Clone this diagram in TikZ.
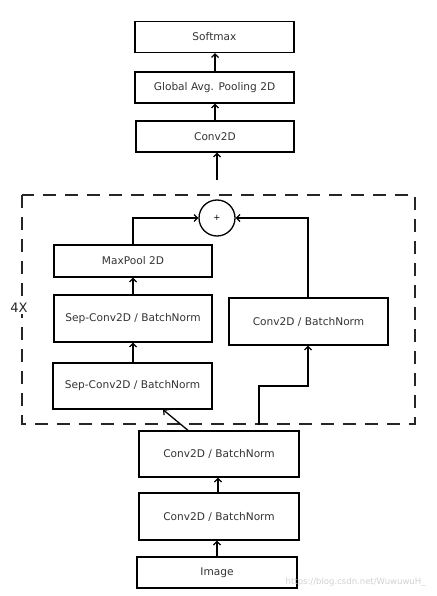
\documentclass[tikz,border=0pt]{standalone}
\usepackage{fontspec}
\setmainfont{DejaVu Sans}
\usetikzlibrary{arrows.meta}
\begin{document}
\begin{tikzpicture}[x=1pt,y=-1pt,
  blk/.style={draw=black,line width=1.3pt,minimum width=#1,inner sep=0pt,font=\fontsize{10.6}{12}\selectfont,text=black!80},
  arr/.style={line width=1.3pt,-{Straight Barb[length=3.5pt,width=7pt,line width=1.2pt]}},
  ln/.style={line width=1.3pt}]
\useasboundingbox (0,0) rectangle (436,596);
% top column
\node[blk=159pt,minimum height=31pt] (soft) at (214.5,37) {Softmax};
\node[blk=159pt,minimum height=31pt] (gap) at (214.5,87.5) {Global Avg. Pooling 2D};
\node[blk=158pt,minimum height=31pt] (conv) at (215,136.5) {Conv2D};
% dashed frame
\draw[line width=1.3pt,dash pattern=on 13pt off 9pt,black!85] (22,195) rectangle (415,424);
\node[font=\fontsize{13}{15}\selectfont,text=black!85,fill=white,inner sep=1pt] (rep) at (19,308) {4X};
% inner blocks
\node[blk=158pt,minimum height=32pt] (mp) at (133,261) {MaxPool 2D};
\node[blk=158pt,minimum height=47pt] (sep1) at (133,318.5) {Sep-Conv2D / BatchNorm};
\node[blk=159pt,minimum height=46pt] (sep2) at (132.5,386) {Sep-Conv2D / BatchNorm};
\node[blk=159pt,minimum height=47pt] (cbr) at (308.5,321.5) {Conv2D / BatchNorm};
\node[draw=black,line width=1.3pt,circle,minimum size=36pt,inner sep=0pt,font=\fontsize{8.5}{10}\selectfont] (add) at (217,218) {+};
% bottom column
\node[blk=160pt,minimum height=46pt] (c1) at (219,454) {Conv2D / BatchNorm};
\node[blk=160pt,minimum height=47pt] (c2) at (219,516.5) {Conv2D / BatchNorm};
\node[blk=160pt,minimum height=31pt] (img) at (217,572.5) {Image};
\node[font=\fontsize{8.5}{10}\selectfont,text=black!18,anchor=east] (wm) at (429,582) {https://blog.csdn.net/WuwuwuH\_};
% coordinates
\coordinate (cin) at (217,180);
\coordinate (sk0) at (259,425);
% arrows
\draw[arr] (img.north -| 217,0) -- (c2.south -| 217,0);
\draw[arr] (c2.north -| 218,0) -- (c1.south -| 218,0);
\draw[arr] (c1.north -| 188,0) -- (sep2.south -| 163,0);
\draw[arr] (sk0) |- (308,386) -- (cbr.south -| 308,0);
\draw[arr] (sep2.north -| 133,0) -- (sep1.south -| 133,0);
\draw[arr] (sep1.north -| 133,0) -- (mp.south -| 133,0);
\draw[arr] (mp.north -| 133,0) |- (add.west);
\draw[arr] (cbr.north -| 308,0) |- (add.east);
\draw[arr] (cin) -- (conv.south -| 217,0);
\draw[arr] (conv.north -| 215,0) -- (gap.south -| 215,0);
\draw[arr] (gap.north -| 215,0) -- (soft.south -| 215,0);
\end{tikzpicture}
\end{document}
